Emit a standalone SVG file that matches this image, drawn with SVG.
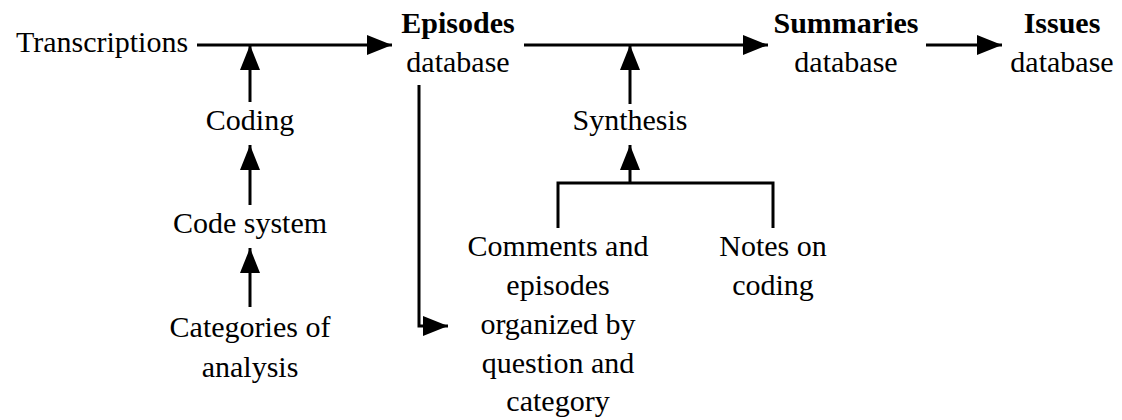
<svg xmlns="http://www.w3.org/2000/svg" width="1122" height="420" viewBox="0 0 1122 420">
<defs>
<marker id="ah" markerWidth="25" markerHeight="20" refX="25" refY="10" orient="auto" markerUnits="userSpaceOnUse">
<path d="M0,0 L25,10 L0,20 Z" fill="#000"/>
</marker>
</defs>
<rect width="1122" height="420" fill="#fff"/>
<g id="connectors" stroke="#000" stroke-width="3" fill="none">
<line x1="197" y1="45" x2="392" y2="45" marker-end="url(#ah)"/>
<line x1="250" y1="102" x2="250" y2="45" marker-end="url(#ah)"/>
<line x1="250" y1="205" x2="250" y2="145" marker-end="url(#ah)"/>
<line x1="250" y1="307" x2="250" y2="248" marker-end="url(#ah)"/>
<polyline points="419,85 419,326 448,326" marker-end="url(#ah)"/>
<line x1="524" y1="45" x2="768" y2="45" marker-end="url(#ah)"/>
<line x1="630" y1="104" x2="630" y2="45" marker-end="url(#ah)"/>
<line x1="630" y1="183" x2="630" y2="145" marker-end="url(#ah)"/>
<polyline points="558,228 558,183 773,183 773,228"/>
<line x1="926" y1="45" x2="1002" y2="45" marker-end="url(#ah)"/>
</g>
<g font-family="Tinos, Liberation Serif, Times New Roman, serif" font-size="30" text-anchor="middle" fill="#000">
<g id="transcriptions"><text x="102" y="52">Transcriptions</text></g>
<g id="coding"><text x="250" y="130">Coding</text></g>
<g id="codesystem"><text x="250" y="233">Code system</text></g>
<g id="categories"><text x="250" y="337">Categories of</text><text x="250" y="377">analysis</text></g>
<g id="episodes"><text x="458" y="33" font-weight="bold">Episodes</text><text x="458" y="72">database</text></g>
<g id="synthesis"><text x="630" y="130">Synthesis</text></g>
<g id="comments"><text x="558" y="256">Comments and</text><text x="558" y="295">episodes</text><text x="558" y="334">organized by</text><text x="558" y="373">question and</text><text x="558" y="411">category</text></g>
<g id="notes"><text x="773" y="256">Notes on</text><text x="773" y="295">coding</text></g>
<g id="summaries"><text x="846" y="33" font-weight="bold">Summaries</text><text x="846" y="72">database</text></g>
<g id="issues"><text x="1062" y="33" font-weight="bold">Issues</text><text x="1062" y="72">database</text></g>
</g>
</svg>
